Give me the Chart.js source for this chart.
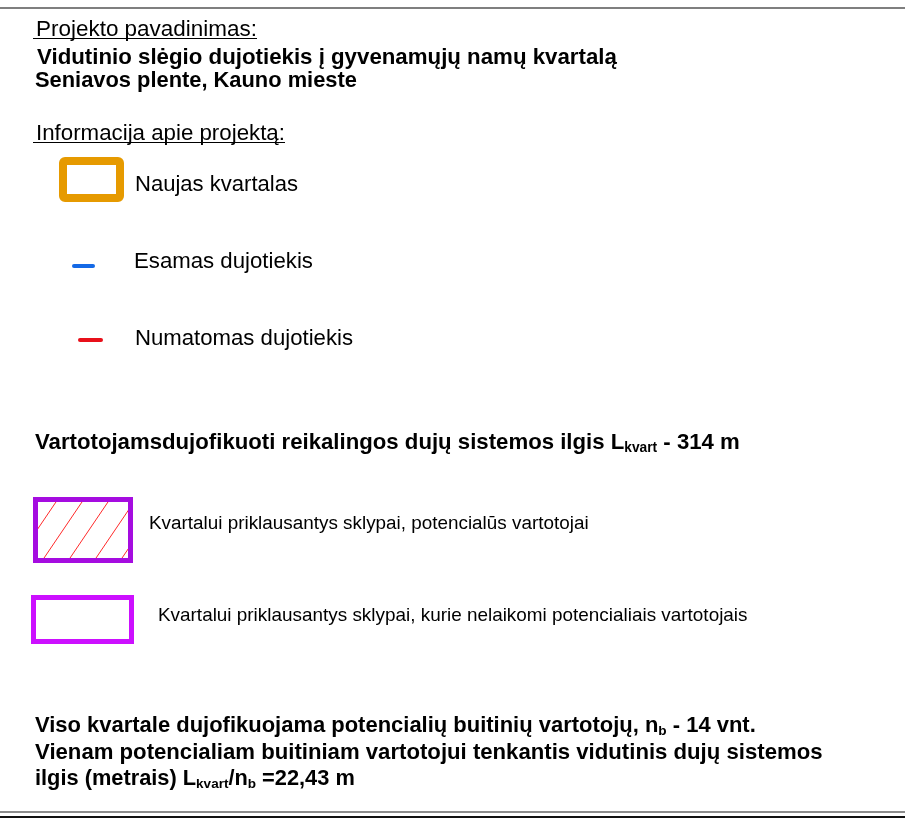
<!DOCTYPE html>
<html>
<head>
<meta charset="utf-8">
<script src="https://cdn.jsdelivr.net/npm/chart.js@4.4.1/dist/chart.umd.min.js"></script>
<style>
    html, body { margin: 0; padding: 0; background: #fff; }
    #wrap { position: relative; width: 905px; height: 820px; }
</style>
</head>
<body>
<div id="wrap"><canvas id="legendChart"></canvas></div>
<script>
// Project info
const projectHeading = 'Projekto pavadinimas:';
const projectTitle = ['Vidutinio slėgio dujotiekis į gyvenamųjų namų kvartalą', 'Seniavos plente, Kauno mieste'];
const infoHeading = 'Informacija apie projektą:';

// Legend items
const lineLabels = ['Naujas kvartalas', 'Esamas dujotiekis', 'Numatomas dujotiekis'];
const lineColors = ['#e69a00', '#1469e6', '#e8101a'];
const plotLabels = ['Kvartalui priklausantys sklypai, potencialūs vartotojai', 'Kvartalui priklausantys sklypai, kurie nelaikomi potencialiais vartotojais'];
const plotColors = ['#a50ce0', '#cc10ff'];
const hatchColor = '#ff2a2a';

// Key figures
const systemLength = 314;        // L kvart, m
const consumerCount = 14;        // n b, vnt.
const lengthPerConsumer = 22.43; // m

const SANS = '"Liberation Sans", Arial, sans-serif';
const SUB = 0.62; // subscript size relative to text

// draw a run of text parts, font size picked so the run fills the given width
function drawFit(ctx, parts, x, baseline, width, weight) {
    weight = weight || 'normal';
    let total = 0;
    parts.forEach(p => {
        ctx.font = weight + ' ' + (100 * (p.rel || 1)) + 'px ' + SANS;
        total += ctx.measureText(p.text).width;
    });
    const size = 100 * width / total;
    let cx = x;
    parts.forEach(p => {
        ctx.font = weight + ' ' + (size * (p.rel || 1)).toFixed(2) + 'px ' + SANS;
        ctx.fillText(p.text, cx, baseline + size * (p.dy || 0));
        cx += ctx.measureText(p.text).width;
    });
    return size;
}

function underline(ctx, x0, x1, y) {
    ctx.fillRect(x0, y, x1 - x0, 1);
}

const infoPanel = {
    id: 'infoPanel',
    afterDraw(chart) {
        const ctx = chart.ctx;
        const fmt = v => v.toFixed(2).replace('.', ',');
        ctx.save();
        ctx.textBaseline = 'alphabetic';

        // frame lines
        ctx.fillStyle = '#7f7f7f';
        ctx.fillRect(0, 7, 905, 2);
        ctx.fillStyle = '#8c8c8c';
        ctx.fillRect(0, 811, 905, 2);
        ctx.fillStyle = '#111';
        ctx.fillRect(0, 816, 905, 2);

        ctx.fillStyle = '#000';

        // project name
        drawFit(ctx, [{ text: projectHeading }], 36, 36, 221);
        underline(ctx, 33, 257, 38);
        drawFit(ctx, [{ text: projectTitle[0] }], 37, 64, 580, 'bold');
        drawFit(ctx, [{ text: projectTitle[1] }], 35, 87, 322, 'bold');

        // project info
        drawFit(ctx, [{ text: infoHeading }], 36, 140, 249);
        underline(ctx, 33, 285, 142);

        // line legend
        drawFit(ctx, [{ text: lineLabels[0] }], 135, 191, 163);
        drawFit(ctx, [{ text: lineLabels[1] }], 134, 268, 179);
        drawFit(ctx, [{ text: lineLabels[2] }], 135, 345, 218);

        ctx.strokeStyle = lineColors[0];
        ctx.lineWidth = 8;
        ctx.beginPath();
        ctx.roundRect(63, 161, 57, 37, 2);
        ctx.stroke();

        ctx.lineCap = 'round';
        ctx.lineWidth = 4;
        ctx.strokeStyle = lineColors[1];
        ctx.beginPath();
        ctx.moveTo(74, 266);
        ctx.lineTo(93, 266);
        ctx.stroke();
        ctx.strokeStyle = lineColors[2];
        ctx.beginPath();
        ctx.moveTo(80, 340);
        ctx.lineTo(101, 340);
        ctx.stroke();
        ctx.lineCap = 'butt';

        // system length
        drawFit(ctx, [
            { text: 'Vartotojamsdujofikuoti reikalingos dujų sistemos ilgis L' },
            { text: 'kvart', rel: SUB, dy: 0.15 },
            { text: ' - ' + systemLength + ' m' }
        ], 35, 449, 705, 'bold');

        // plot legend: hatched
        ctx.save();
        ctx.beginPath();
        ctx.rect(35.5, 499.5, 95, 61);
        ctx.clip();
        ctx.strokeStyle = hatchColor;
        ctx.lineWidth = 1;
        for (let bx = -10; bx < 160; bx += 26) {
            ctx.beginPath();
            ctx.moveTo(bx, 561);
            ctx.lineTo(bx + 42, 499);
            ctx.stroke();
        }
        ctx.restore();
        ctx.strokeStyle = plotColors[0];
        ctx.lineWidth = 5;
        ctx.beginPath();
        ctx.rect(35.5, 499.5, 95, 61);
        ctx.stroke();

        ctx.strokeStyle = plotColors[1];
        ctx.beginPath();
        ctx.rect(33.5, 597.5, 98, 44);
        ctx.stroke();

        drawFit(ctx, [{ text: plotLabels[0] }], 149, 529, 440);
        drawFit(ctx, [{ text: plotLabels[1] }], 158, 621, 590);

        // consumers
        drawFit(ctx, [
            { text: 'Viso kvartale dujofikuojama potencialių buitinių vartotojų, n' },
            { text: 'b', rel: SUB, dy: 0.15 },
            { text: ' - ' + consumerCount + ' vnt.' }
        ], 35, 732, 721, 'bold');
        drawFit(ctx, [{ text: 'Vienam potencialiam buitiniam vartotojui tenkantis vidutinis dujų sistemos' }], 35, 759, 788, 'bold');
        drawFit(ctx, [
            { text: 'ilgis (metrais) L' },
            { text: 'kvart', rel: SUB, dy: 0.15 },
            { text: '/n' },
            { text: 'b', rel: SUB, dy: 0.15 },
            { text: ' =' + fmt(lengthPerConsumer) + ' m' }
        ], 35, 785, 320, 'bold');

        ctx.restore();
    }
};

new Chart(document.getElementById('legendChart').getContext('2d'), {
    type: 'scatter',
    data: { datasets: [] },
    options: {
        responsive: true,
        maintainAspectRatio: false,
        animation: false,
        layout: { padding: 0 },
        plugins: {
            legend: { display: false },
            tooltip: { enabled: false }
        },
        scales: {
            x: { display: false },
            y: { display: false }
        }
    },
    plugins: [infoPanel]
});
</script>
</body>
</html>
